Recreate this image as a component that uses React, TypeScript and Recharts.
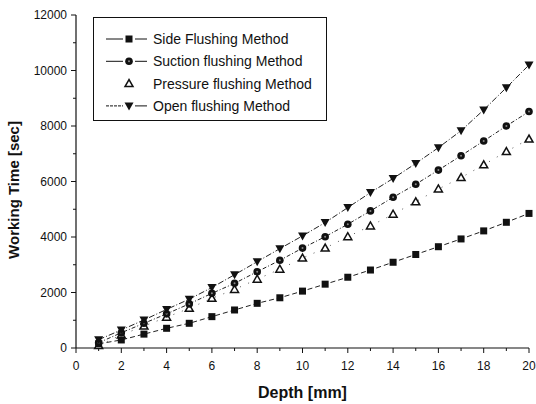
import React from 'react';
import { LineChart, Line, XAxis, YAxis } from 'recharts';

const depth = [1, 2, 3, 4, 5, 6, 7, 8, 9, 10, 11, 12, 13, 14, 15, 16, 17, 18, 19, 20];
const side = [150, 290, 500, 710, 890, 1130, 1370, 1610, 1810, 2050, 2300, 2550, 2810, 3090, 3370, 3650, 3930, 4220, 4530, 4850];
const suction = [190, 550, 890, 1230, 1590, 1970, 2330, 2750, 3160, 3600, 4010, 4460, 4940, 5430, 5900, 6410, 6930, 7460, 8000, 8520];
const pressure = [90, 470, 790, 1110, 1430, 1790, 2110, 2480, 2840, 3240, 3600, 4010, 4400, 4820, 5270, 5730, 6140, 6600, 7080, 7530];
const openM = [300, 650, 1010, 1390, 1760, 2180, 2640, 3110, 3580, 4040, 4520, 5060, 5600, 6110, 6650, 7220, 7830, 8580, 9380, 10200];

const xTicks = [0, 1, 2, 3, 4, 5, 6, 7, 8, 9, 10, 11, 12, 13, 14, 15, 16, 17, 18, 19, 20];
const yTicks = [0, 1000, 2000, 3000, 4000, 5000, 6000, 7000, 8000, 9000, 10000, 11000, 12000];

const seriesNames = ['Side Flushing Method', 'Suction flushing Method', 'Pressure flushing Method', 'Open flushing Method'];
const xTitle = 'Depth [mm]';
const yTitle = 'Working Time [sec]';

const data = depth.map((d, i) => ({ x: d, side: side[i], suction: suction[i], pressure: pressure[i], open: openM[i] }));

const FONT = '"Liberation Sans", Arial, sans-serif';

const Square = (p: any) => {
  const { cx, cy } = p;
  if (cx == null || cy == null) return null;
  return <rect x={cx - 3.5} y={cy - 3.5} width={7} height={7} fill="#111" />;
};
const Circ = (p: any) => {
  const { cx, cy } = p;
  if (cx == null || cy == null) return null;
  return (
    <g>
      <circle cx={cx} cy={cy} r={3.8} fill="#111" />
      <circle cx={cx} cy={cy} r={1} fill="#888" />
    </g>
  );
};
const TriUp = (p: any) => {
  const { cx, cy } = p;
  if (cx == null || cy == null) return null;
  return <polygon points={`${cx},${cy - 4} ${cx - 4},${cy + 3} ${cx + 4},${cy + 3}`} fill="#fff" stroke="#111" strokeWidth={1.5} />;
};
const TriDown = (p: any) => {
  const { cx, cy } = p;
  if (cx == null || cy == null) return null;
  return <polygon points={`${cx - 4.5},${cy - 3.5} ${cx + 4.5},${cy - 3.5} ${cx},${cy + 4.5}`} fill="#111" />;
};

const XTick = (p: any) => {
  const { x, y, payload } = p;
  const v = payload.value;
  const major = v % 2 === 0;
  return (
    <g>
      <line x1={x} x2={x} y1={y} y2={y + (major ? 5 : 3)} stroke="#111" strokeWidth={1} />
      {major && (
        <text x={x} y={y + 22} textAnchor="middle" fontSize={12} fontFamily={FONT} fill="#111">
          {v}
        </text>
      )}
    </g>
  );
};

const YTick = (p: any) => {
  const { x, y, payload } = p;
  const v = payload.value;
  const major = v % 2000 === 0;
  return (
    <g>
      <line x1={x} x2={x - (major ? 5 : 3)} y1={y} y2={y} stroke="#111" strokeWidth={1} />
      {major && (
        <text x={x - 9} y={y + 4} textAnchor="end" fontSize={12} fontFamily={FONT} fill="#111">
          {v}
        </text>
      )}
    </g>
  );
};

const YTitle = () => (
  <text
    transform="translate(13,190) rotate(-90)"
    textAnchor="middle"
    dominantBaseline="central"
    fontFamily={FONT}
    fontSize={15}
    fontWeight="bold"
    fill="#111"
  >
    {yTitle}
  </text>
);

const LegendBox = () => {
  const rows = [
    { name: seriesNames[0], dash: '', sym: 'sq' },
    { name: seriesNames[1], dash: '', sym: 'ci' },
    { name: seriesNames[2], dash: 'none', sym: 'tu' },
    { name: seriesNames[3], dash: '3 1', sym: 'td' },
  ];
  return (
    <svg width={234} height={104} style={{ position: 'absolute', left: 93, top: 17, display: 'block' }}>
      <rect x={0.5} y={0.5} width={233} height={103} fill="#fff" stroke="#111" strokeWidth={1} />
      {rows.map((r, i) => {
        const cy = 22 + i * 22.3;
        const cx = 36;
        return (
          <g key={i}>
            {r.dash !== 'none' && (
              <g>
                <line x1={13} x2={30} y1={cy} y2={cy} stroke="#111" strokeWidth={1} strokeDasharray={r.dash || undefined} />
                <line x1={42} x2={54} y1={cy} y2={cy} stroke="#111" strokeWidth={1} />
              </g>
            )}
            {r.sym === 'sq' && <Square cx={cx} cy={cy} />}
            {r.sym === 'ci' && <Circ cx={cx} cy={cy} />}
            {r.sym === 'tu' && <TriUp cx={cx} cy={cy} />}
            {r.sym === 'td' && <TriDown cx={cx} cy={cy} />}
            <text x={60} y={cy + 5} fontSize={14} fontFamily={FONT} fill="#111">
              {r.name}
            </text>
          </g>
        );
      })}
    </svg>
  );
};

export default function App() {
  return (
    <div style={{ position: 'absolute', left: 0, top: 0, width: 536, height: 404, background: '#fff' }}>
      <LineChart width={536} height={404} data={data} margin={{ top: 15, right: 7, left: 0, bottom: 0 }}>
        <XAxis
          type="number"
          dataKey="x"
          domain={[0, 20]}
          ticks={xTicks}
          interval={0}
          height={56}
          tickSize={0}
          tickMargin={0}
          tickLine={false}
          tick={<XTick />}
          axisLine={{ stroke: '#111', strokeWidth: 1.2 }}
          label={{
            value: xTitle,
            position: 'insideBottom',
            offset: 6,
            style: { fontFamily: FONT, fontSize: 16, fontWeight: 'bold', fill: '#111' },
          }}
        />
        <YAxis
          type="number"
          domain={[0, 12000]}
          ticks={yTicks}
          interval={0}
          width={76}
          tickSize={0}
          tickMargin={0}
          tickLine={false}
          tick={<YTick />}
          axisLine={{ stroke: '#111', strokeWidth: 1.2 }}
          label={{ content: () => <YTitle /> }}
        />
        <Line dataKey="pressure" name={seriesNames[2]} stroke="#555" strokeWidth={1} strokeDasharray="1 8" dot={<TriUp />} isAnimationActive={false} legendType="none" />
        <Line dataKey="side" name={seriesNames[0]} stroke="#222" strokeWidth={1} strokeDasharray="5 3" dot={<Square />} isAnimationActive={false} />
        <Line dataKey="suction" name={seriesNames[1]} stroke="#222" strokeWidth={1} strokeDasharray="4 2 1 2" dot={<Circ />} isAnimationActive={false} />
        <Line dataKey="open" name={seriesNames[3]} stroke="#222" strokeWidth={1} strokeDasharray="6 2 1 2" dot={<TriDown />} isAnimationActive={false} />
      </LineChart>
      <LegendBox />
    </div>
  );
}
